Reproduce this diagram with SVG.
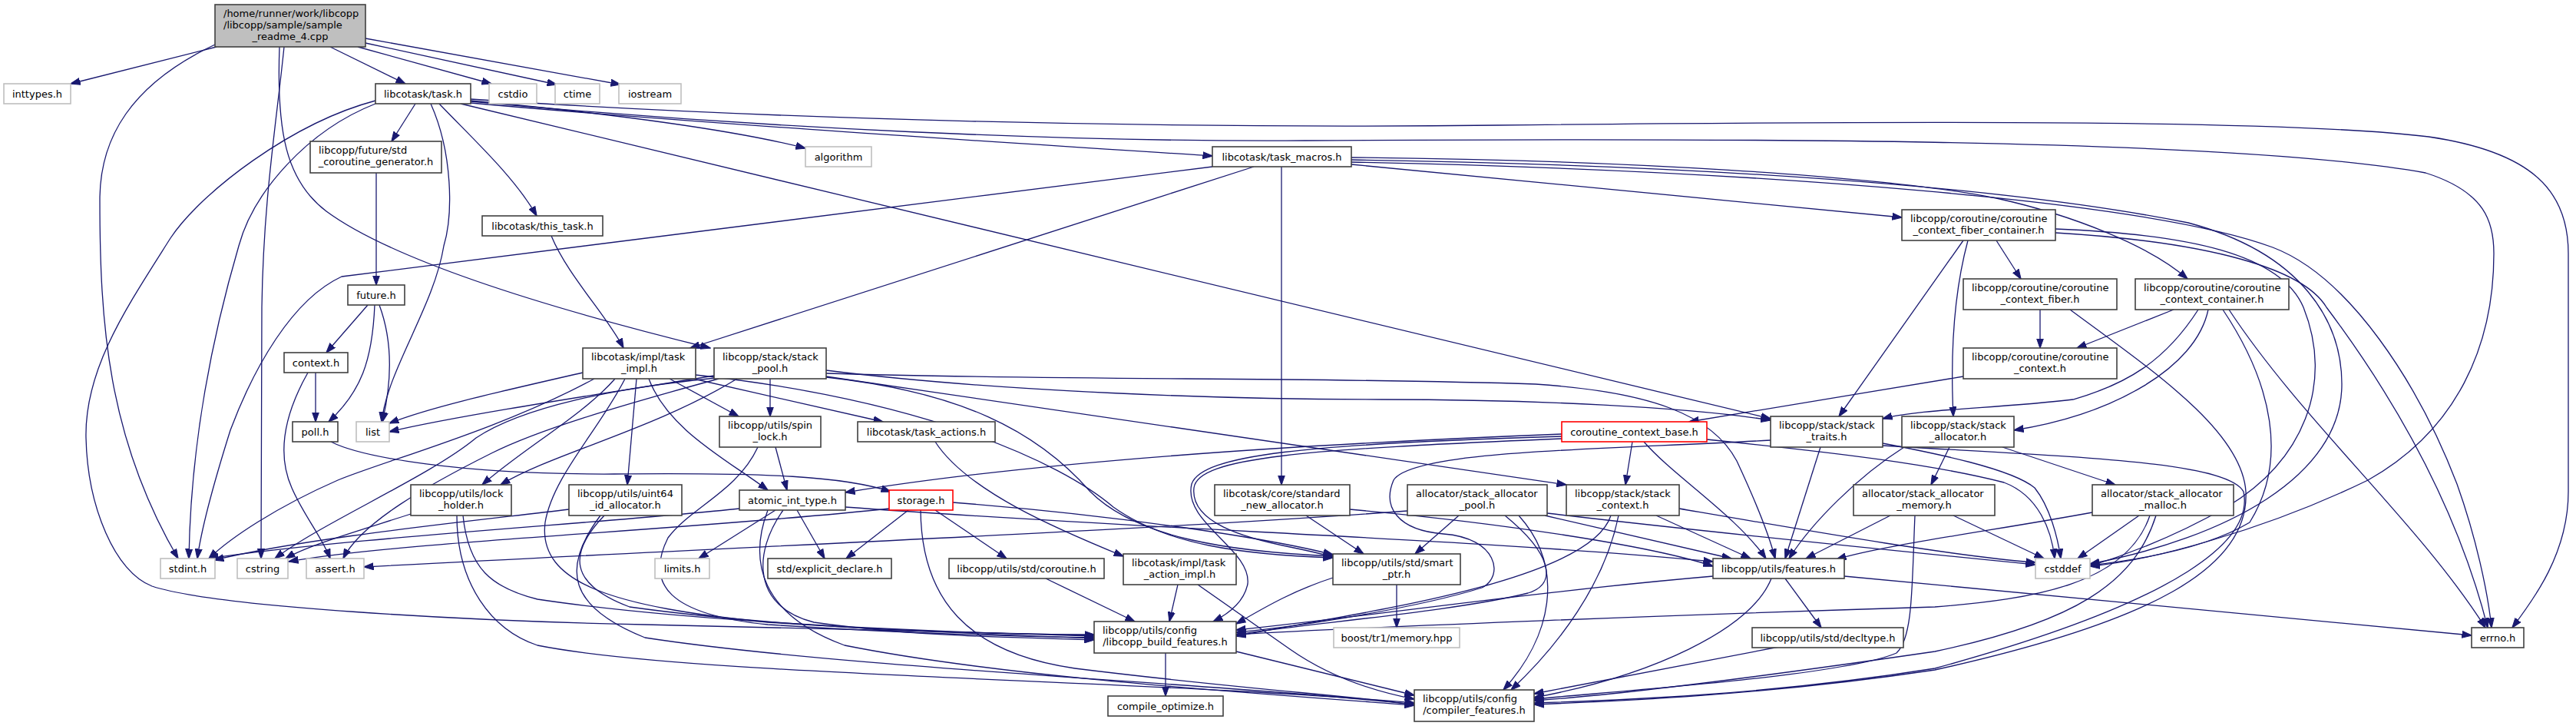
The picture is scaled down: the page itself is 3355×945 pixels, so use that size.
<svg xmlns="http://www.w3.org/2000/svg" width="3355" height="945" viewBox="0 0 3355 945">
<defs>
<marker id="ah" markerWidth="14" markerHeight="10" refX="12.5" refY="5" orient="auto" markerUnits="userSpaceOnUse"><path d="M0,0.5 L13,5 L0,9.5 Z" fill="#191970" stroke="#191970" stroke-width="1"/></marker>
<style>
.nd rect{fill:#fff;stroke:#404040;stroke-width:1.6}
.gy rect{stroke:#bfbfbf}
.rd rect{stroke:#ff0000}
.mn rect{fill:#bfbfbf}
text{font-family:"DejaVu Sans","Liberation Sans",sans-serif;font-size:13px;fill:#000}
.c{text-anchor:middle}
#connectors path{fill:none;stroke:#191970;stroke-width:1.3;marker-end:url(#ah)}
</style>
</defs>
<rect width="3355" height="945" fill="#fff"/>
<g id="connectors">
<path d="M282,61 L92,109"/>
<path d="M280,58 C170,110 130,180 130,260 C130,420 140,570 232,727"/>
<path d="M370,61 C360,160 343,260 341,400 L340,727"/>
<path d="M364,61 C360,170 372,235 425,275 C520,345 750,410 925,453"/>
<path d="M430,61 L528,109"/>
<path d="M466,61 L640,109"/>
<path d="M476,56 L725,110"/>
<path d="M476,50 L808,110"/>
<path d="M541,135 L510,184"/>
<path d="M572,135 C615,180 670,230 699,281"/>
<path d="M561,135 C590,200 590,280 578,320 C565,400 505,480 497,549"/>
<path d="M489,135 C400,170 330,250 311,320 C270,460 248,600 246,727"/>
<path d="M489,131 C380,160 262,250 222,310 C165,400 110,480 112,570 C114,660 150,745 198,763 C280,790 600,808 840,813 C1100,818 1300,824 1425,827"/>
<path d="M600,135 L2306,545"/>
<path d="M613,131 C800,148 960,170 1049,193"/>
<path d="M613,134 C900,160 1300,185 1579,203"/>
<path d="M613,129 C1000,155 1500,168 1950,163 C2600,156 3000,158 3163,178 C3300,198 3345,250 3345,330 L3345,640 C3345,720 3300,780 3272,817"/>
<path d="M613,132 C1000,168 1400,185 1700,183 C2200,180 2900,178 3159,225 C3238,250 3248,290 3248,330 C3248,450 3200,560 3084,625 C2950,690 2800,730 2722,737"/>
<path d="M1579,217 L445,360 C380,390 330,480 300,560 C278,630 262,690 257,727"/>
<path d="M1633,217 L899,453"/>
<path d="M1669,217 L1669,631"/>
<path d="M1760,214 L2477,283"/>
<path d="M1760,205 C2100,208 2450,228 2600,258 C2700,280 2800,320 2849,363"/>
<path d="M1760,208 C2200,215 2600,240 2850,290 C3000,330 3050,420 3050,500 C3050,620 2900,700 2722,734"/>
<path d="M1760,211 C2300,222 2800,262 2960,322 C3060,360 3150,500 3200,630 C3225,700 3240,770 3245,817"/>
<path d="M490,225 L490,371"/>
<path d="M718,307 C740,360 790,410 812,453"/>
<path d="M479,397 L425,459"/>
<path d="M488,397 C485,470 470,510 428,549"/>
<path d="M494,397 C510,440 512,490 498,549"/>
<path d="M411,485 L411,549"/>
<path d="M401,485 C370,540 360,590 380,635 C395,670 420,700 430,727"/>
<path d="M431,575 C470,595 600,618 800,617 C1000,615 1100,620 1160,640"/>
<path d="M759,485 C650,510 560,530 507,551"/>
<path d="M774,493 C650,560 500,600 440,625 C360,660 300,700 272,727"/>
<path d="M801,493 C760,540 680,585 628,631"/>
<path d="M829,493 L817,631"/>
<path d="M872,493 L962,542"/>
<path d="M845,493 C870,560 950,600 1000,638"/>
<path d="M903,493 L1150,549"/>
<path d="M814,493 C780,560 720,620 710,680 C700,760 800,790 1000,810 C1200,823 1350,826 1425,826"/>
<path d="M906,488 C1200,520 1380,600 1450,660 C1520,710 1620,722 1736,726"/>
<path d="M1003,493 L1003,542"/>
<path d="M960,493 C850,560 720,590 652,631"/>
<path d="M930,489 C800,510 600,540 507,562"/>
<path d="M932,492 C800,505 680,530 620,570 C560,620 420,680 358,727"/>
<path d="M936,493 C800,530 700,560 640,590 C560,630 470,680 447,727"/>
<path d="M1076,490 L2040,631"/>
<path d="M1076,482 C1300,510 1600,520 1800,520 C2000,520 2200,530 2306,547"/>
<path d="M1076,486 C1400,496 1700,490 2000,500 C2150,510 2230,540 2262,600 C2290,660 2305,700 2312,727"/>
<path d="M1076,491 C1250,510 1350,560 1420,640 C1480,700 1600,718 1736,724"/>
<path d="M1010,582 L1025,638"/>
<path d="M987,582 C960,640 900,660 870,700 C840,760 870,800 1000,813 C1200,826 1350,829 1425,830"/>
<path d="M1218,575 C1260,640 1380,690 1463,724"/>
<path d="M2034,565 C1700,578 1350,600 1101,641"/>
<path d="M2034,568 C1700,578 1565,592 1552,630 C1540,680 1630,715 1625,760 C1620,785 1598,800 1580,809"/>
<path d="M2034,571 C1700,585 1560,595 1555,635 C1550,680 1620,700 1680,712 C1710,718 1725,722 1736,725"/>
<path d="M2126,575 L2117,631"/>
<path d="M2141,575 C2180,620 2260,670 2300,727"/>
<path d="M2223,572 C2400,590 2520,605 2610,628 C2655,645 2672,690 2676,727"/>
<path d="M2371,582 L2325,727"/>
<path d="M2306,573 C2100,585 1840,585 1815,625 C1800,660 1820,690 1880,695 C1950,700 1960,750 1930,765 C1850,790 1700,815 1610,823"/>
<path d="M2452,577 C2520,590 2620,610 2650,635 C2670,660 2680,700 2684,727"/>
<path d="M2452,580 C2700,595 2900,600 2922,640 C2935,700 2850,780 2520,870 C2300,905 2100,912 1998,915"/>
<path d="M2696,403 C2800,480 2920,560 2925,640 C2930,740 2800,810 2520,872 C2300,905 2100,913 1998,917"/>
<path d="M2539,582 L2515,631"/>
<path d="M2608,582 L2755,631"/>
<path d="M2480,582 C2420,620 2360,680 2330,727"/>
<path d="M1900,671 L1843,721"/>
<path d="M2012,671 L2255,727"/>
<path d="M1960,671 C2020,720 2030,760 1990,772 C1900,795 1700,812 1610,826"/>
<path d="M1978,671 C2040,740 2020,830 1958,898"/>
<path d="M2015,668 C2200,690 2500,720 2651,735"/>
<path d="M1833,665 C1500,690 1000,710 474,738"/>
<path d="M2157,671 L2280,727"/>
<path d="M2108,671 C2090,760 2030,840 1968,898"/>
<path d="M2098,671 C2070,760 1750,800 1610,828"/>
<path d="M2187,662 C2350,690 2550,725 2651,732"/>
<path d="M2462,671 L2352,727"/>
<path d="M2494,671 C2490,760 2492,830 2470,850 C2400,880 2100,900 1998,910"/>
<path d="M2544,671 L2662,727"/>
<path d="M2786,671 L2706,727"/>
<path d="M2725,667 C2600,690 2450,710 2392,728"/>
<path d="M2808,671 C2780,760 2700,810 2520,848 C2300,880 2100,905 1998,912"/>
<path d="M2800,671 C2770,760 2650,780 2520,790 C2200,800 1800,815 1610,826"/>
<path d="M1701,671 L1776,721"/>
<path d="M1758,663 C1950,680 2150,710 2231,737"/>
<path d="M535,669 C470,690 400,710 372,727"/>
<path d="M595,671 C595,760 640,820 700,840 C900,880 1500,885 1842,915"/>
<path d="M603,671 C610,740 640,765 700,780 C900,810 1200,822 1425,828"/>
<path d="M741,663 C600,680 400,700 279,729"/>
<path d="M787,671 C740,720 740,760 820,790 C1000,815 1200,822 1425,831"/>
<path d="M782,671 C730,740 740,790 840,830 C1100,870 1600,890 1842,917"/>
<path d="M1010,664 L910,727"/>
<path d="M1038,664 L1074,727"/>
<path d="M963,662 C800,680 450,700 272,727"/>
<path d="M1020,664 C980,720 980,790 1060,810 C1200,830 1350,830 1425,833"/>
<path d="M1000,664 C975,730 990,800 1100,840 C1300,880 1600,900 1842,918"/>
<path d="M1101,660 C1500,690 1900,700 2231,731"/>
<path d="M1183,664 L1102,727"/>
<path d="M1218,664 L1311,727"/>
<path d="M1199,664 C1200,780 1260,850 1400,870 C1600,895 1750,905 1842,917"/>
<path d="M1158,662 C900,690 520,705 376,731"/>
<path d="M1241,654 C1450,670 1650,700 1736,722"/>
<path d="M1819,761 L1819,817"/>
<path d="M1736,752 C1680,770 1640,795 1610,812"/>
<path d="M2231,750 C2000,770 1800,800 1610,820"/>
<path d="M2307,753 C2280,820 2150,880 1998,908"/>
<path d="M2325,753 L2372,817"/>
<path d="M2402,750 L3219,827"/>
<path d="M2317,842 L1998,903"/>
<path d="M1518,850 L1518,906"/>
<path d="M1610,848 C1700,870 1780,890 1842,905"/>
<path d="M1362,753 L1478,809"/>
<path d="M1534,761 L1523,809"/>
<path d="M1560,761 L1680,845 C1730,880 1790,900 1842,910"/>
<path d="M2600,313 L2632,363"/>
<path d="M2563,313 C2545,380 2540,460 2544,542"/>
<path d="M2557,313 L2395,542"/>
<path d="M2677,298 C2850,305 2970,330 3000,400 C3040,500 3000,600 2900,660 C2830,700 2760,725 2722,737"/>
<path d="M2677,303 C2880,315 3000,350 3030,400 C3120,520 3200,660 3240,817"/>
<path d="M2831,403 L2705,453"/>
<path d="M2876,403 C2860,480 2750,540 2623,560"/>
<path d="M2863,403 C2820,470 2770,500 2700,520 C2600,532 2500,532 2452,545"/>
<path d="M2895,403 C2960,500 2980,600 2930,680 C2880,710 2800,727 2722,736"/>
<path d="M2903,403 C3000,550 3150,680 3237,817"/>
<path d="M2657,403 L2657,453"/>
<path d="M2557,490 L2200,549"/>
</g>
<g id="node-main" class="nd mn"><rect x="280" y="6" width="196" height="55"/><text x="291" y="21.5">/home/runner/work/libcopp</text><text x="291" y="36.5">/libcopp/sample/sample</text><text class="c" x="378" y="51.5">_readme_4.cpp</text></g>
<g id="node-inttypes" class="nd gy"><rect x="5" y="109" width="87" height="26"/><text class="c" x="48.5" y="126.5">inttypes.h</text></g>
<g id="node-task" class="nd"><rect x="489" y="109" width="124" height="26"/><text class="c" x="551" y="126.5">libcotask/task.h</text></g>
<g id="node-cstdio" class="nd gy"><rect x="637" y="109" width="62" height="26"/><text class="c" x="668" y="126.5">cstdio</text></g>
<g id="node-ctime" class="nd gy"><rect x="723" y="109" width="58" height="26"/><text class="c" x="752" y="126.5">ctime</text></g>
<g id="node-iostream" class="nd gy"><rect x="806" y="109" width="81" height="26"/><text class="c" x="846.5" y="126.5">iostream</text></g>
<g id="node-algorithm" class="nd gy"><rect x="1049" y="191" width="86" height="26"/><text class="c" x="1092" y="208.5">algorithm</text></g>
<g id="node-task_macros" class="nd"><rect x="1579" y="191" width="181" height="26"/><text class="c" x="1669.5" y="208.5">libcotask/task_macros.h</text></g>
<g id="node-std_coroutine_generator" class="nd"><rect x="404" y="184" width="171" height="41"/><text x="415" y="199.5">libcopp/future/std</text><text class="c" x="489.5" y="214.5">_coroutine_generator.h</text></g>
<g id="node-this_task" class="nd"><rect x="628" y="281" width="157" height="26"/><text class="c" x="706.5" y="298.5">libcotask/this_task.h</text></g>
<g id="node-fiber_container" class="nd"><rect x="2477" y="273" width="200" height="40"/><text x="2488" y="288.5">libcopp/coroutine/coroutine</text><text class="c" x="2577" y="303.5">_context_fiber_container.h</text></g>
<g id="node-future" class="nd"><rect x="453" y="371" width="74" height="26"/><text class="c" x="490" y="388.5">future.h</text></g>
<g id="node-context" class="nd"><rect x="370" y="459" width="83" height="26"/><text class="c" x="411.5" y="476.5">context.h</text></g>
<g id="node-poll" class="nd"><rect x="381" y="549" width="59" height="26"/><text class="c" x="410.5" y="566.5">poll.h</text></g>
<g id="node-list" class="nd gy"><rect x="464" y="549" width="43" height="26"/><text class="c" x="485.5" y="566.5">list</text></g>
<g id="node-task_impl" class="nd"><rect x="759" y="453" width="147" height="40"/><text x="770" y="468.5">libcotask/impl/task</text><text class="c" x="832.5" y="483.5">_impl.h</text></g>
<g id="node-stack_pool" class="nd"><rect x="930" y="453" width="146" height="40"/><text x="941" y="468.5">libcopp/stack/stack</text><text class="c" x="1003" y="483.5">_pool.h</text></g>
<g id="node-spin_lock" class="nd"><rect x="937" y="542" width="132" height="40"/><text x="948" y="557.5">libcopp/utils/spin</text><text class="c" x="1003" y="572.5">_lock.h</text></g>
<g id="node-task_actions" class="nd"><rect x="1117" y="549" width="179" height="26"/><text class="c" x="1206.5" y="566.5">libcotask/task_actions.h</text></g>
<g id="node-coroutine_context_base" class="nd rd"><rect x="2034" y="549" width="189" height="26"/><text class="c" x="2128.5" y="566.5">coroutine_context_base.h</text></g>
<g id="node-stack_traits" class="nd"><rect x="2306" y="542" width="146" height="40"/><text x="2317" y="557.5">libcopp/stack/stack</text><text class="c" x="2379" y="572.5">_traits.h</text></g>
<g id="node-stack_allocator" class="nd"><rect x="2477" y="542" width="146" height="40"/><text x="2488" y="557.5">libcopp/stack/stack</text><text class="c" x="2550" y="572.5">_allocator.h</text></g>
<g id="node-context_fiber" class="nd"><rect x="2557" y="363" width="200" height="40"/><text x="2568" y="378.5">libcopp/coroutine/coroutine</text><text class="c" x="2657" y="393.5">_context_fiber.h</text></g>
<g id="node-context_container" class="nd"><rect x="2781" y="363" width="200" height="40"/><text x="2792" y="378.5">libcopp/coroutine/coroutine</text><text class="c" x="2881" y="393.5">_context_container.h</text></g>
<g id="node-coroutine_context" class="nd"><rect x="2557" y="453" width="200" height="40"/><text x="2568" y="468.5">libcopp/coroutine/coroutine</text><text class="c" x="2657" y="483.5">_context.h</text></g>
<g id="node-lock_holder" class="nd"><rect x="535" y="631" width="131" height="40"/><text x="546" y="646.5">libcopp/utils/lock</text><text class="c" x="600.5" y="661.5">_holder.h</text></g>
<g id="node-uint64_id_allocator" class="nd"><rect x="741" y="631" width="147" height="40"/><text x="752" y="646.5">libcopp/utils/uint64</text><text class="c" x="814.5" y="661.5">_id_allocator.h</text></g>
<g id="node-stdint" class="nd gy"><rect x="209" y="727" width="71" height="26"/><text class="c" x="244.5" y="744.5">stdint.h</text></g>
<g id="node-cstring" class="nd gy"><rect x="309" y="727" width="66" height="26"/><text class="c" x="342" y="744.5">cstring</text></g>
<g id="node-assert" class="nd gy"><rect x="399" y="727" width="75" height="26"/><text class="c" x="436.5" y="744.5">assert.h</text></g>
<g id="node-atomic_int_type" class="nd"><rect x="963" y="638" width="138" height="26"/><text class="c" x="1032" y="655.5">atomic_int_type.h</text></g>
<g id="node-storage" class="nd rd"><rect x="1158" y="638" width="83" height="26"/><text class="c" x="1199.5" y="655.5">storage.h</text></g>
<g id="node-limits" class="nd gy"><rect x="853" y="727" width="71" height="26"/><text class="c" x="888.5" y="744.5">limits.h</text></g>
<g id="node-explicit_declare" class="nd"><rect x="1000" y="727" width="161" height="26"/><text class="c" x="1080.5" y="744.5">std/explicit_declare.h</text></g>
<g id="node-std_coroutine" class="nd"><rect x="1236" y="727" width="202" height="26"/><text class="c" x="1337" y="744.5">libcopp/utils/std/coroutine.h</text></g>
<g id="node-task_action_impl" class="nd"><rect x="1463" y="721" width="147" height="40"/><text x="1474" y="736.5">libcotask/impl/task</text><text class="c" x="1536.5" y="751.5">_action_impl.h</text></g>
<g id="node-build_features" class="nd"><rect x="1425" y="809" width="185" height="41"/><text x="1436" y="824.5">libcopp/utils/config</text><text class="c" x="1517.5" y="839.5">/libcopp_build_features.h</text></g>
<g id="node-compile_optimize" class="nd"><rect x="1443" y="906" width="150" height="26"/><text class="c" x="1518" y="923.5">compile_optimize.h</text></g>
<g id="node-standard_new_allocator" class="nd"><rect x="1582" y="631" width="176" height="40"/><text x="1593" y="646.5">libcotask/core/standard</text><text class="c" x="1670" y="661.5">_new_allocator.h</text></g>
<g id="node-stack_allocator_pool" class="nd"><rect x="1833" y="631" width="182" height="40"/><text x="1844" y="646.5">allocator/stack_allocator</text><text class="c" x="1924" y="661.5">_pool.h</text></g>
<g id="node-stack_context" class="nd"><rect x="2040" y="631" width="147" height="40"/><text x="2051" y="646.5">libcopp/stack/stack</text><text class="c" x="2113.5" y="661.5">_context.h</text></g>
<g id="node-smart_ptr" class="nd"><rect x="1736" y="721" width="166" height="40"/><text x="1747" y="736.5">libcopp/utils/std/smart</text><text class="c" x="1819" y="751.5">_ptr.h</text></g>
<g id="node-boost_memory" class="nd gy"><rect x="1737" y="817" width="164" height="26"/><text class="c" x="1819" y="834.5">boost/tr1/memory.hpp</text></g>
<g id="node-features" class="nd"><rect x="2231" y="727" width="171" height="26"/><text class="c" x="2316.5" y="744.5">libcopp/utils/features.h</text></g>
<g id="node-decltype" class="nd"><rect x="2282" y="817" width="197" height="26"/><text class="c" x="2380.5" y="834.5">libcopp/utils/std/decltype.h</text></g>
<g id="node-compiler_features" class="nd"><rect x="1842" y="898" width="156" height="41"/><text x="1853" y="913.5">libcopp/utils/config</text><text class="c" x="1920" y="928.5">/compiler_features.h</text></g>
<g id="node-stack_allocator_memory" class="nd"><rect x="2414" y="631" width="184" height="40"/><text x="2425" y="646.5">allocator/stack_allocator</text><text class="c" x="2506" y="661.5">_memory.h</text></g>
<g id="node-stack_allocator_malloc" class="nd"><rect x="2725" y="631" width="184" height="40"/><text x="2736" y="646.5">allocator/stack_allocator</text><text class="c" x="2817" y="661.5">_malloc.h</text></g>
<g id="node-cstddef" class="nd gy"><rect x="2651" y="727" width="71" height="26"/><text class="c" x="2686.5" y="744.5">cstddef</text></g>
<g id="node-errno" class="nd"><rect x="3219" y="817" width="68" height="26"/><text class="c" x="3253" y="834.5">errno.h</text></g>
</svg>
